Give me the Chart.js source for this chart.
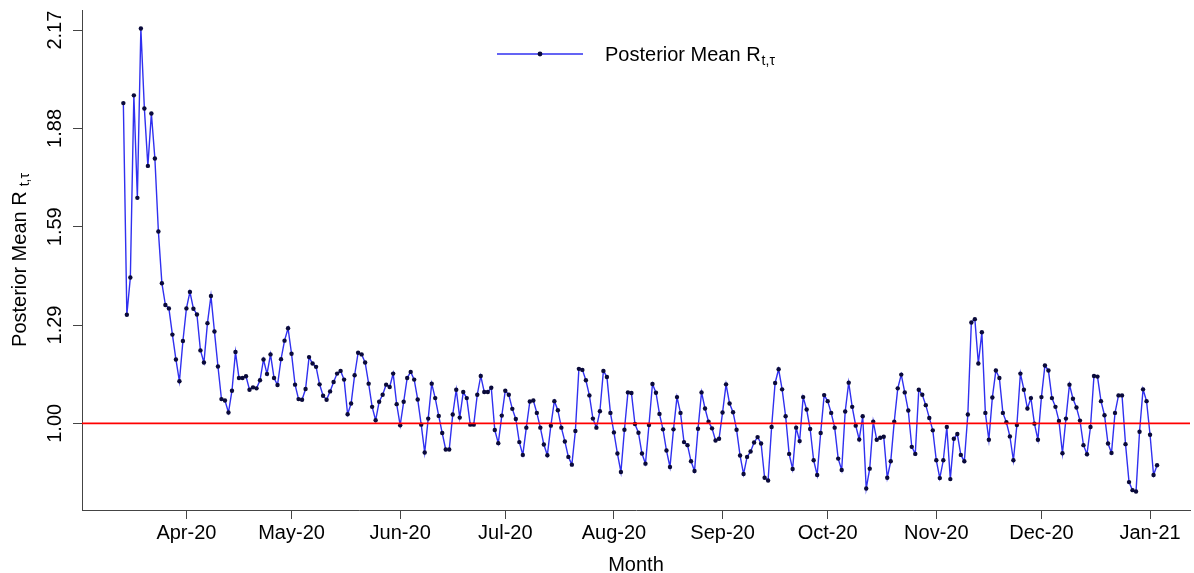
<!DOCTYPE html>
<html>
<head>
<meta charset="utf-8">
<title>Posterior Mean R</title>
<script src="https://cdn.jsdelivr.net/npm/chart.js@4"></script>
<style>
  html, body { margin: 0; padding: 0; background: #fff; }
  #rtChart { display: block; }
</style>
</head>
<body>
<canvas id="rtChart" width="1194" height="573"></canvas>
<script>
// Posterior mean R(t,tau), one value per day from 14 Mar 2020 to 3 Jan 2021
const firstDay = -18; // days counted from 1 Apr 2020
const rtMean = [
  1.953, 1.323, 1.434, 1.976, 1.671, 2.175, 1.937, 1.766, 1.922, 1.788,
  1.571, 1.417, 1.352, 1.342, 1.264, 1.190, 1.125, 1.245, 1.342, 1.391,
  1.341, 1.324, 1.217, 1.181, 1.298, 1.379, 1.273, 1.169, 1.072, 1.068,
  1.032, 1.097, 1.212, 1.135, 1.135, 1.140, 1.100, 1.107, 1.104, 1.128,
  1.190, 1.147, 1.205, 1.135, 1.114, 1.191, 1.246, 1.283, 1.207, 1.115,
  1.072, 1.070, 1.102, 1.197, 1.178, 1.168, 1.116, 1.082, 1.070, 1.095,
  1.123, 1.148, 1.156, 1.130, 1.027, 1.059, 1.143, 1.210, 1.205, 1.181,
  1.118, 1.049, 1.009, 1.064, 1.085, 1.115, 1.108, 1.148, 1.057, 0.994,
  1.064, 1.135, 1.153, 1.130, 1.071, 0.996, 0.913, 1.014, 1.118, 1.075,
  1.022, 0.971, 0.922, 0.922, 1.026, 1.100, 1.017, 1.093, 1.075, 0.996,
  0.996, 1.085, 1.141, 1.093, 1.093, 1.106, 0.980, 0.941, 1.023, 1.097,
  1.085, 1.043, 1.013, 0.944, 0.906, 0.987, 1.065, 1.068, 1.031, 0.987,
  0.937, 0.905, 0.993, 1.066, 1.039, 0.987, 0.946, 0.900, 0.877, 0.977,
  1.162, 1.159, 1.128, 1.083, 1.014, 0.987, 1.036, 1.156, 1.138, 1.031,
  0.973, 0.910, 0.855, 0.981, 1.092, 1.090, 0.998, 0.972, 0.910, 0.880,
  0.995, 1.117, 1.091, 1.028, 0.982, 0.919, 0.870, 0.982, 1.078, 1.031,
  0.944, 0.935, 0.887, 0.858, 0.984, 1.092, 1.044, 1.005, 0.985, 0.949,
  0.954, 1.032, 1.116, 1.059, 1.033, 0.981, 0.904, 0.849, 0.900, 0.916,
  0.943, 0.959, 0.940, 0.838, 0.830, 0.989, 1.120, 1.161, 1.101, 1.021,
  0.909, 0.864, 0.987, 0.947, 1.078, 1.041, 0.983, 0.890, 0.846, 0.971,
  1.084, 1.066, 1.031, 0.987, 0.895, 0.861, 1.035, 1.121, 1.049, 0.993,
  0.952, 1.021, 0.806, 0.865, 1.005, 0.951, 0.957, 0.960, 0.838, 0.887,
  1.005, 1.104, 1.145, 1.092, 1.038, 0.930, 0.909, 1.100, 1.085, 1.054,
  1.016, 0.979, 0.890, 0.837, 0.890, 0.989, 0.834, 0.954, 0.968, 0.906,
  0.887, 1.026, 1.300, 1.310, 1.178, 1.271, 1.031, 0.951, 1.077, 1.157,
  1.135, 1.031, 1.003, 0.961, 0.890, 0.995, 1.148, 1.100, 1.044, 1.075,
  0.999, 0.951, 1.078, 1.172, 1.157, 1.075, 1.049, 1.007, 0.911, 1.014,
  1.115, 1.073, 1.047, 1.008, 0.935, 0.908, 0.989, 1.141, 1.139, 1.066,
  1.024, 0.940, 0.912, 1.031, 1.083, 1.083, 0.938, 0.825, 0.801, 0.797,
  0.975, 1.101, 1.066, 0.966, 0.846, 0.875
];
const monthDays = [0, 30, 61, 91, 122, 153, 183, 214, 244, 275];
const monthLabels = ['Apr-20', 'May-20', 'Jun-20', 'Jul-20', 'Aug-20', 'Sep-20', 'Oct-20', 'Nov-20', 'Dec-20', 'Jan-21'];
const yTicks = [1.00, 1.2925, 1.585, 1.8775, 2.17];
const yTickLabels = ['1.00', '1.29', '1.59', '1.88', '2.17'];
const threshold = 1.0;

// axis ranges (R style, data range padded by 4%)
const xMin = -29.8, xMax = 286.4;
const yMin = 0.742, yMax = 2.230;

const fontFamily = '"Liberation Sans", Arial, sans-serif';
Chart.defaults.font.family = fontFamily;
Chart.defaults.color = '#000';

const lineBlue = '#3030f0';
const dotNavy = '#0a0a3a';

// y title and legend need a subscript, so they are drawn here
const rtText = {
  id: 'rtText',
  afterDraw(chart) {
    const ctx = chart.ctx;
    const area = chart.chartArea;
    const main = 'Posterior Mean R';
    const sub = 't,\u03c4';

    ctx.save();
    ctx.fillStyle = '#000';
    ctx.translate(20, (area.top + area.bottom) / 2);
    ctx.rotate(-Math.PI / 2);
    ctx.font = '20px ' + fontFamily;
    const mw = ctx.measureText(main).width;
    ctx.font = '14px ' + fontFamily;
    const sw = ctx.measureText(sub).width;
    const start = -(mw + 5 + sw) / 2;
    ctx.textBaseline = 'middle';
    ctx.font = '20px ' + fontFamily;
    ctx.fillText(main, start, 0);
    ctx.font = '14px ' + fontFamily;
    ctx.fillText(sub, start + mw + 5, 5);
    ctx.restore();

    // legend: line with dot, then label
    ctx.save();
    ctx.strokeStyle = lineBlue;
    ctx.lineWidth = 1.4;
    ctx.beginPath();
    ctx.moveTo(497, 54);
    ctx.lineTo(583, 54);
    ctx.stroke();
    ctx.fillStyle = dotNavy;
    ctx.beginPath();
    ctx.arc(540, 54, 2.4, 0, Math.PI * 2);
    ctx.fill();
    ctx.fillStyle = '#000';
    ctx.textBaseline = 'alphabetic';
    ctx.font = '20px ' + fontFamily;
    ctx.fillText(main, 605, 61);
    const lw = ctx.measureText(main).width;
    ctx.font = '14px ' + fontFamily;
    ctx.fillText(sub, 605 + lw + 1, 65);
    ctx.restore();
  }
};

const ctx = document.getElementById('rtChart').getContext('2d');
const rtChart = new Chart(ctx, {
  type: 'line',
  data: {
    datasets: [
      {
        label: 'R = 1',
        data: [{ x: xMin, y: threshold }, { x: xMax, y: threshold }],
        borderColor: '#ff0000',
        borderWidth: 1.8,
        pointRadius: 0,
        order: 0
      },
      {
        label: 'Posterior Mean R',
        data: rtMean.map((v, i) => ({ x: firstDay + i, y: v })),
        borderColor: lineBlue,
        borderWidth: 1.4,
        pointRadius: 2.2,
        pointBackgroundColor: dotNavy,
        pointBorderWidth: 0,
        tension: 0,
        order: 1
      }
    ]
  },
  options: {
    responsive: false,
    animation: false,
    events: [],
    layout: { padding: { top: 10, left: 0, right: 0, bottom: 0 } },
    plugins: {
      legend: { display: false },
      tooltip: { enabled: false }
    },
    scales: {
      x: {
        type: 'linear',
        bounds: 'data',
        min: xMin,
        max: xMax,
        afterBuildTicks: (scale) => { scale.ticks = monthDays.map(d => ({ value: d })); },
        afterFit: (scale) => { scale.height = 63; scale.paddingLeft = 0; scale.paddingRight = 0; },
        ticks: {
          autoSkip: false,
          maxRotation: 0,
          padding: 2,
          font: { size: 20 },
          callback: (value) => monthLabels[monthDays.indexOf(value)]
        },
        grid: { drawOnChartArea: false, tickLength: 9, color: '#444' },
        border: { display: true, color: '#444', width: 1 },
        title: {
          display: true,
          text: 'Month',
          font: { size: 20 },
          padding: { top: 0, bottom: -4 }
        }
      },
      y: {
        type: 'linear',
        bounds: 'data',
        min: yMin,
        max: yMax,
        afterBuildTicks: (scale) => { scale.ticks = yTicks.map(v => ({ value: v })); },
        afterFit: (scale) => { scale.width = 82; scale.paddingTop = 0; scale.paddingBottom = 0; },
        ticks: {
          minRotation: 90,
          maxRotation: 90,
          crossAlign: 'center',
          padding: -2,
          font: { size: 20 },
          callback: (value) => yTickLabels[yTicks.indexOf(value)]
        },
        grid: { drawOnChartArea: false, tickLength: 9, color: '#444' },
        border: { display: true, color: '#444', width: 1 }
      }
    }
  },
  plugins: [rtText]
});
</script>
</body>
</html>
